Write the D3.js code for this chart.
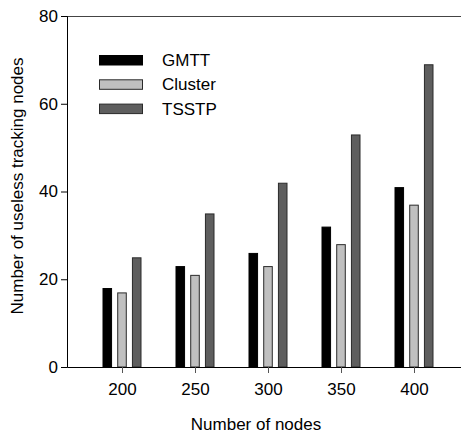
<!DOCTYPE html>
<html>
<head>
<meta charset="utf-8">
<script src="https://cdn.jsdelivr.net/npm/d3@7"></script>
<style>
  body { margin: 0; background: #fff; }
  text { font-family: "Liberation Sans", Arial, sans-serif; fill: #000; }
</style>
</head>
<body>
<svg width="461" height="434"></svg>
<script>
// data
var nodes = ["200", "250", "300", "350", "400"];
var seriesNames = ["GMTT", "Cluster", "TSSTP"];
var gmtt = [18, 23, 26, 32, 41];
var cluster = [17, 21, 23, 28, 37];
var tsstp = [25, 35, 42, 53, 69];
var yTicks = [0, 20, 40, 60, 80];

var fills = {GMTT: "#000000", Cluster: "#c0c0c0", TSSTP: "#5e5e5e"};
var strokes = {GMTT: "#000000", Cluster: "#2a2a2a", TSSTP: "#2a2a2a"};

var svg = d3.select("svg"),
    margin = {top: 16, right: 0, bottom: 67, left: 67},
    width = +svg.attr("width") - margin.left - margin.right,
    height = +svg.attr("height") - margin.top - margin.bottom;

var rows = nodes.map(function(n, i) {
  return {node: n, GMTT: gmtt[i], Cluster: cluster[i], TSSTP: tsstp[i]};
});

var x = d3.scalePoint().domain(nodes).range([55, 347]);
var sub = d3.scaleBand().domain(seriesNames).range([-19.5, 19.5]).paddingInner(0.35);
var y = d3.scaleLinear().domain([0, 80]).range([height, 0]);

var g = svg.append("g")
    .attr("transform", "translate(" + margin.left + "," + margin.top + ")");

// bars
var groups = g.selectAll(".grp")
  .data(rows)
  .enter().append("g")
    .attr("class", "grp")
    .attr("transform", function(d) { return "translate(" + x(d.node) + ",0)"; });

groups.selectAll("rect")
  .data(function(d) { return seriesNames.map(function(k) { return {key: k, value: d[k]}; }); })
  .enter().append("rect")
    .attr("x", function(d) { return sub(d.key) + 0.5; })
    .attr("width", sub.bandwidth() - 1)
    .attr("y", function(d) { return y(d.value) + 0.5; })
    .attr("height", function(d) { return height - y(d.value) - 0.5; })
    .style("fill", function(d) { return fills[d.key]; })
    .style("stroke", function(d) { return strokes[d.key]; })
    .style("stroke-width", 1);

// top frame line
g.append("line")
    .attr("x1", 0).attr("x2", width)
    .attr("y1", 0.5).attr("y2", 0.5)
    .style("stroke", "#444");

// axes
var yAxis = g.append("g")
    .call(d3.axisLeft(y).tickValues(yTicks).tickSize(6).tickPadding(3));
var xAxis = g.append("g")
    .attr("transform", "translate(0," + height + ")")
    .call(d3.axisBottom(x).tickSize(6).tickPadding(10));
xAxis.select(".domain").attr("d", "M0.5,0.5H" + width);

[xAxis, yAxis].forEach(function(a) {
  a.selectAll("path, line").style("stroke", "#000");
  a.selectAll("text").style("font-size", "17px")
    .style("font-family", "'Liberation Sans', Arial, sans-serif").style("fill", "#000");
});
xAxis.selectAll(".tick line").style("stroke", "#555");

// axis titles
svg.append("text")
    .attr("x", margin.left + 189)
    .attr("y", 430)
    .attr("text-anchor", "middle")
    .style("font-size", "17px")
    .text("Number of nodes");

svg.append("text")
    .attr("transform", "translate(23,186) rotate(-90)")
    .attr("text-anchor", "middle")
    .style("font-size", "17px")
    .text("Number of useless tracking nodes");

// legend
var legend = svg.append("g").attr("transform", "translate(99,55)");
var item = legend.selectAll(".item")
  .data(seriesNames)
  .enter().append("g")
    .attr("class", "item")
    .attr("transform", function(d, i) { return "translate(0," + (i * 24.3) + ")"; });
item.append("rect")
    .attr("x", 0.5).attr("y", 0.5)
    .attr("width", 43).attr("height", 9.5)
    .style("fill", function(d) { return fills[d]; })
    .style("stroke", function(d) { return strokes[d]; });
item.append("text")
    .attr("x", 63).attr("y", 11)
    .style("font-size", "17px")
    .text(function(d) { return d; });
</script>
</body>
</html>
